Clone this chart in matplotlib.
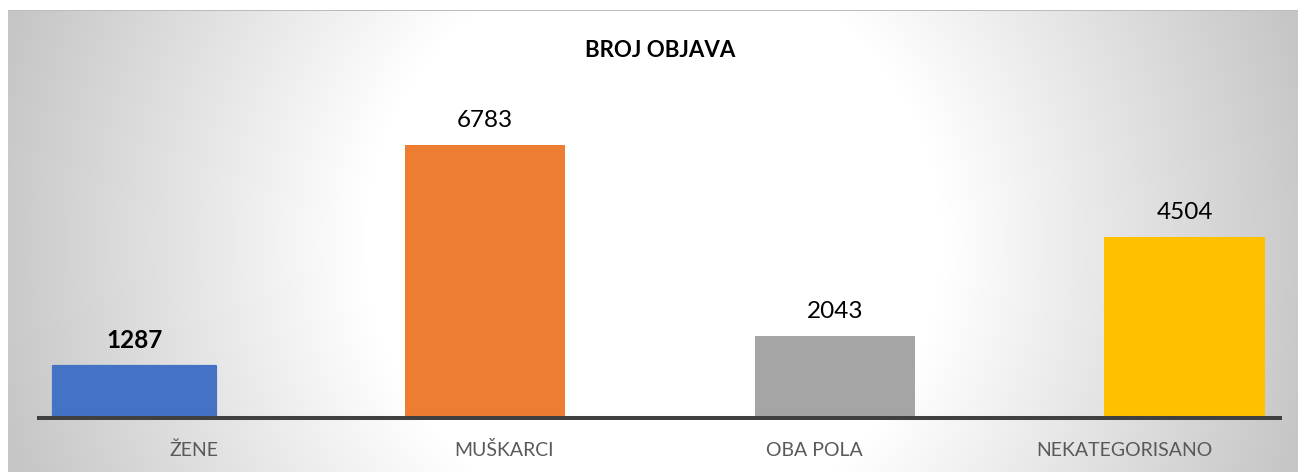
import numpy as np
import matplotlib
matplotlib.use("Agg")
import matplotlib.pyplot as plt
import matplotlib.transforms as mtransforms

# ---- data ----
categories = ["ŽENE", "MUŠKARCI", "OBA POLA", "NEKATEGORISANO"]
values = [1287, 6783, 2043, 4504]
title = "BROJ OBJAVA"

# ---- styles / positions ----
colors = ["#4472C4", "#ED7D31", "#A5A5A5", "#FFC000"]
bar_offsets = [-0.191, -0.062, 0.066, 0.193]
bar_widths = [0.525, 0.516, 0.516, 0.519]
label_bold = [True, False, False, False]

plt.rcParams["font.family"] = ["Lato", "DejaVu Sans"]

W, H = 1298, 472
fig = plt.figure(figsize=(W / 100, H / 100), dpi=100)

# background radial gradient panel
bg = fig.add_axes([0, 0, 1, 1], zorder=-10)
yy, xx = np.mgrid[0:H, 0:W]
cx, cy = (8 + W) / 2, (10 + H) / 2
d = np.hypot(xx - cx, yy - cy)
g = 1 - 0.21 * np.clip(d - 290, 0, None) / 360
g = np.clip(g, 0.78, 1.0)
g[(xx < 8) | (yy < 10)] = 1.0
g[(yy >= 10) & (yy < 11) & (xx >= 8)] = 0.74
rgb = np.dstack([g, g, g])
bg.imshow(rgb, extent=[0, W, H, 0], aspect="auto", interpolation="bilinear")
bg.set_xlim(0, W)
bg.set_ylim(H, 0)
bg.axis("off")

ax = fig.add_axes([39 / W, (H - 418) / H, 1241 / W, 321.6 / H])
ax.patch.set_alpha(0)
x = np.arange(len(categories))
for i, (v, c) in enumerate(zip(values, colors)):
    xc = x[i] + bar_offsets[i]
    if i == 0:
        b = ax.bar(xc, v, width=bar_widths[i], color=c, edgecolor=c, linewidth=1.6,
                   joinstyle="round", zorder=2)
    else:
        b = ax.bar(xc, v, width=bar_widths[i], color=c, linewidth=0, zorder=2)
    for p in b:
        p.set_clip_on(False)
    ax.annotate(str(v), (xc, v), xytext=(0, 13.2), textcoords="offset points",
                ha="center", va="baseline", fontsize=17.5, color="black",
                fontweight="bold" if label_bold[i] else "normal")

ax.set_xlim(-0.5, 3.5)
ax.set_ylim(0, 8000)
ax.axhline(0, color="#404040", lw=2.9, zorder=3, clip_on=False)
for s in ax.spines.values():
    s.set_visible(False)
ax.set_xticks([])
ax.set_yticks([])

trans = mtransforms.blended_transform_factory(ax.transData, ax.transAxes)
for i, cat in enumerate(categories):
    ax.text(x[i], (418 - 456) / 321.6, cat, transform=trans, ha="center",
            va="baseline", fontsize=14, color="#595959")

fig.text(660 / W, 1 - 56.7 / H, title, ha="center", va="baseline",
         fontsize=16, fontweight="bold", color="black")

fig.savefig("out.png", dpi=100)
